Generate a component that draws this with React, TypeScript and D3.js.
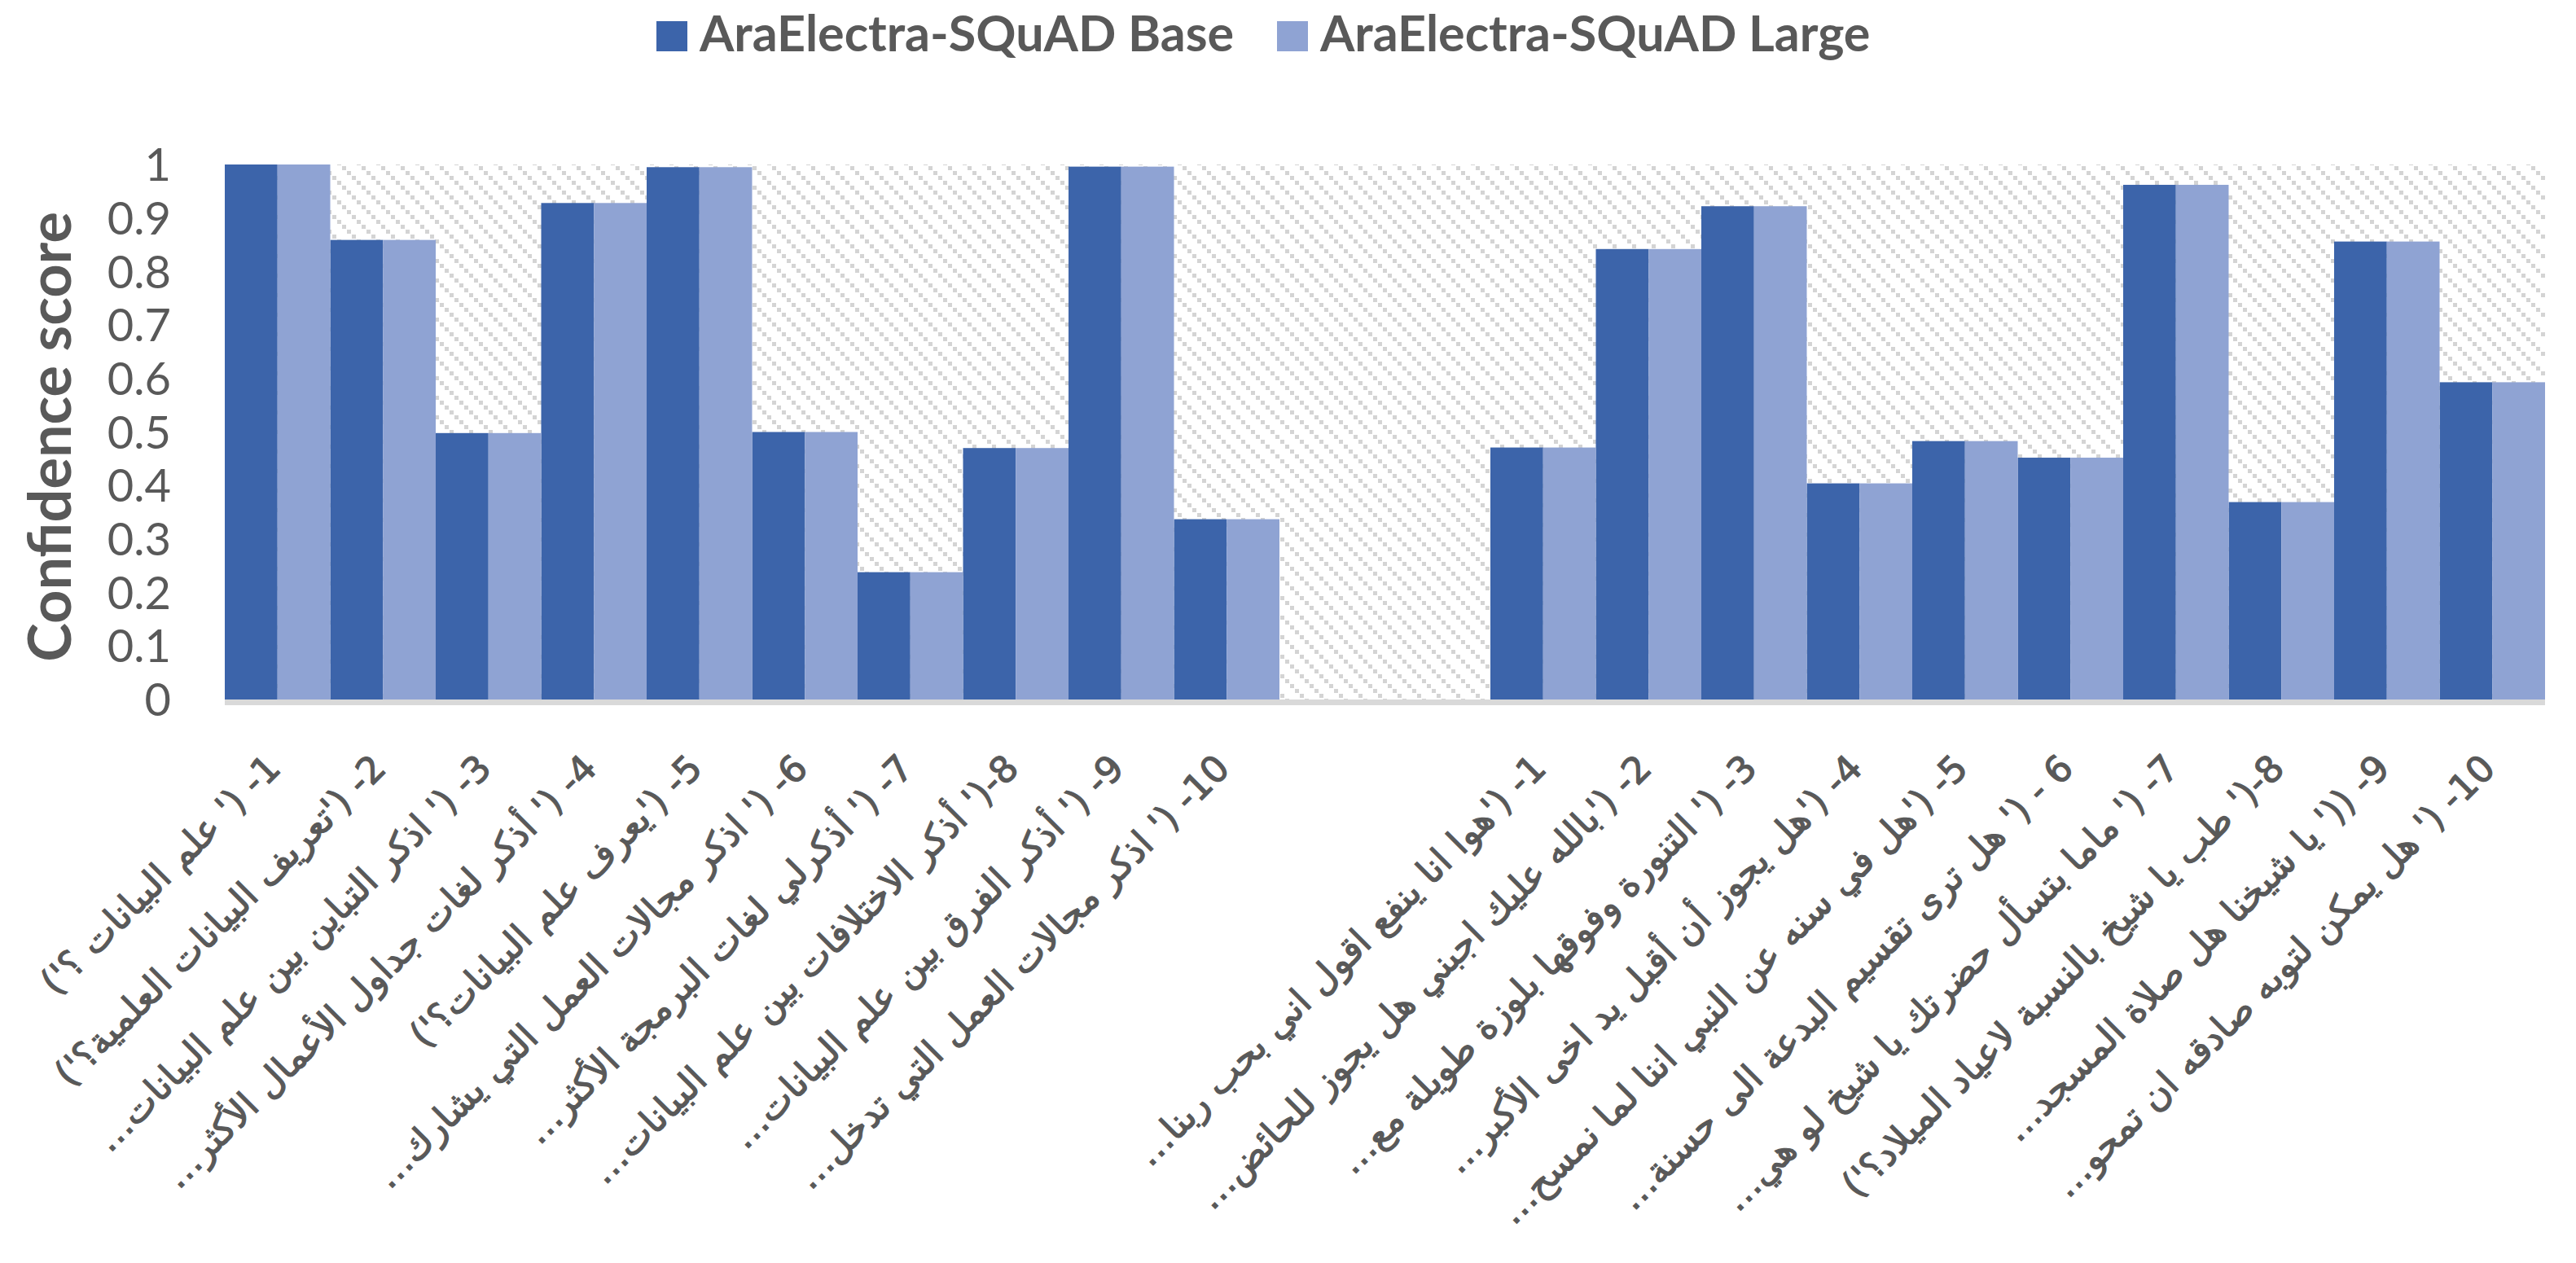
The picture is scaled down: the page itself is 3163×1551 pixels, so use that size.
import React, { useEffect } from "react";
import * as d3 from "d3";

const W = 3163;
const H = 1551;

const seriesNames = ["AraElectra-SQuAD Base", "AraElectra-SQuAD Large"];
const seriesColors = ["#3C64AA", "#8FA3D3"];

const labelsA = [
  "1- (' علم البيانات ؟')",
  "2- ('تعريف البيانات العلمية؟')",
  "3- (' اذكر التباين بين علم البيانات…",
  "4- (' أذكر لغات جداول الأعمال الأكثر…",
  "5- ('يعرف علم البيانات؟')",
  "6- (' اذكر مجالات العمل التي يشارك…",
  "7- (' أذكرلي لغات البرمجة الأكثر…",
  "8-(' أذكر الاختلافات بين علم البيانات…",
  "9- (' أذكر الفرق بين علم البيانات…",
  "10- (' اذكر مجالات العمل التي تدخل…",
];

const labelsB = [
  "1- ('هوا انا ينفع اقول اني بحب ربنا…",
  "2- ('بالله عليك اجبني هل يجوز للحائض…",
  "3- (' التنورة وفوقها بلوزة طويلة مع…",
  "4- ('هل يجوز أن أقبل يد اخى الأكبر…",
  "5- ('هل في سنه عن النبي اننا لما نمسح…",
  "6 - (' هل ترى تقسيم البدعة الى حسنة…",
  "7- (' ماما بتسأل حضرتك يا شيخ لو هي…",
  "8-(' طب يا شيخ بالنسبة لاعياد الميلاد؟')",
  "9- ((' يا شيخنا هل صلاة المسجد…",
  "10- (' هل يمكن لتوبه صادقه ان تمحو…",
];

// two empty category slots separate the two question sets
const categories = [...labelsA, "", "", ...labelsB];

const baseValues = [
  1.0, 0.859, 0.498, 0.928, 0.995, 0.5, 0.238, 0.47, 0.996, 0.337,
  null, null,
  0.471, 0.842, 0.922, 0.404, 0.483, 0.452, 0.962, 0.369, 0.856, 0.593,
];
const largeValues = [
  1.0, 0.859, 0.498, 0.928, 0.995, 0.5, 0.238, 0.47, 0.996, 0.337,
  null, null,
  0.471, 0.842, 0.922, 0.404, 0.483, 0.452, 0.962, 0.369, 0.856, 0.593,
];

const yTicks = [0, 0.1, 0.2, 0.3, 0.4, 0.5, 0.6, 0.7, 0.8, 0.9, 1];

const TEXT = "#595959";

export default function App() {
  useEffect(() => {
    document.body.style.margin = "0";
  }, []);

  const left = 276;
  const right = 3125;
  const top = 202;
  const bottom = 859;

  const x = d3
    .scaleBand<string>()
    .domain(categories.map((_, i) => String(i)))
    .range([left, right])
    .paddingInner(0)
    .paddingOuter(0);
  const xs = d3
    .scaleBand<string>()
    .domain(["0", "1"])
    .range([0, x.bandwidth()])
    .padding(0);
  const y = d3.scaleLinear().domain([0, 1]).range([bottom, top]);

  const series = [baseValues, largeValues];

  return (
    <svg
      width={W}
      height={H}
      viewBox={`0 0 ${W} ${H}`}
      style={{ display: "block", background: "#fff" }}
    >
      <defs>
        <pattern id="hatch" width={24} height={24} patternUnits="userSpaceOnUse">
          {[0, 1, 2, 3].map((k) => (
            <rect key={k} x={k * 6} y={k * 6} width={5} height={5} fill="#d4d4d4" />
          ))}
        </pattern>
      </defs>

      {/* plot area background hatch */}
      <rect x={left} y={y(1)} width={right - left} height={y(0) - y(1)} fill="url(#hatch)" />

      {/* bars */}
      {series.map((vals, si) =>
        vals.map((v, i) =>
          v == null ? null : (
            <rect
              key={`${si}-${i}`}
              x={(x(String(i)) as number) + (xs(String(si)) as number)}
              y={y(v)}
              width={xs.bandwidth()}
              height={y(0) - y(v)}
              fill={seriesColors[si]}
            />
          )
        )
      )}

      {/* x axis line */}
      <rect x={left} y={y(0)} width={right - left} height={7} fill="#d9d9d9" />

      {/* y tick labels */}
      {yTicks.map((t) => (
        <text
          key={t}
          x={210}
          y={y(t)}
          dy="0.36em"
          textAnchor="end"
          fontFamily="Lato, 'Open Sans', sans-serif"
          fontSize={56}
          fill={TEXT}
        >
          {String(Math.round(t * 10) / 10)}
        </text>
      ))}

      {/* y axis title */}
      <text
        transform={`translate(87, ${(top + bottom) / 2 + 6}) rotate(-90)`}
        textAnchor="middle"
        fontFamily="Lato, 'Open Sans', sans-serif"
        fontWeight="bold"
        fontSize={72}
        fill={TEXT}
      >
        Confidence score
      </text>

      {/* category labels */}
      {categories.map((c, i) => {
        if (!c) return null;
        const cx = (x(String(i)) as number) + x.bandwidth() / 2 + 6;
        const cy = 946;
        return (
          <text
            key={i}
            x={cx}
            y={cy}
            transform={`rotate(-45, ${cx}, ${cy})`}
            direction="rtl"
            textAnchor="start"
            fontFamily="'DejaVu Sans', sans-serif"
            fontSize={45}
            fill={TEXT}
            stroke={TEXT}
            strokeWidth={1.2}
          >
            {c}
          </text>
        );
      })}

      {/* legend */}
      {seriesNames.map((n, i) => {
        const lx = i === 0 ? 806 : 1568;
        return (
          <g key={n}>
            <rect x={lx} y={26} width={38} height={37} fill={seriesColors[i]} />
            <text
              x={lx + 53}
              y={63}
              fontFamily="Lato, 'Open Sans', sans-serif"
              fontWeight="bold"
              fontSize={61}
              fill={TEXT}
            >
              {n}
            </text>
          </g>
        );
      })}
    </svg>
  );
}
